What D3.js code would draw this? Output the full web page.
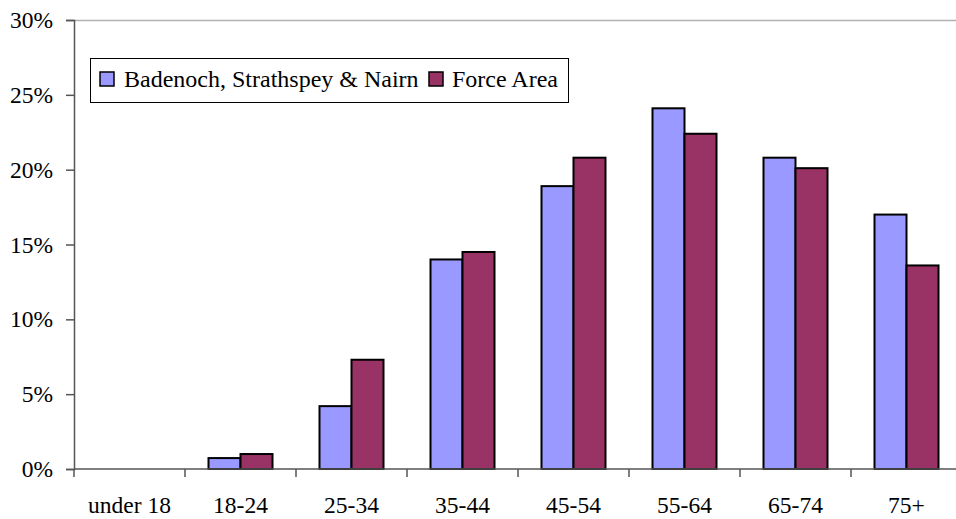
<!DOCTYPE html>
<html><head><meta charset="utf-8">
<script src="https://cdn.jsdelivr.net/npm/d3@7"></script>
<style>body{margin:0;background:#fff}svg{display:block}</style>
</head><body><svg id="c" width="956" height="519"></svg>
<script>
const categories = ["under 18","18-24","25-34","35-44","45-54","55-64","65-74","75+"];
const seriesNames = ["Badenoch, Strathspey & Nairn","Force Area"];
const badenoch = [0, 0.73, 4.2, 14.0, 18.9, 24.1, 20.8, 17.0];
const forceArea = [0, 1.0, 7.3, 14.5, 20.8, 22.4, 20.1, 13.6];
const yTicks = [0,5,10,15,20,25,30];
const colors = ["#9999ff","#993366"];

(function(){
const svg = d3.select("#c");
const FS = 23.5, FL = 24, FF = "Liberation Serif";
const pl = 74, pr = 962, pt = 20, pb = 469;
const x = d3.scaleBand().domain(categories).range([pl, pr]).paddingInner(0).paddingOuter(0);
const inner = d3.scaleBand().domain([0,1]).range([0, 64]);
const y = d3.scaleLinear().domain([0,30]).range([pb, pt]);
const values = [badenoch, forceArea];

svg.append("line").attr("x1", pl).attr("x2", 956).attr("y1", pt+0.5).attr("y2", pt+0.5)
  .attr("stroke","#b0b0b0").attr("stroke-width",1.5);

values.forEach((vals, s) => {
  svg.append("g").selectAll("rect").data(categories.map((c,i)=>({c, v: vals[i]})).filter(d=>d.v>0))
    .join("rect")
    .attr("x", d => x(d.c) + (x.bandwidth()-64)/2 + inner(s))
    .attr("y", d => y(d.v))
    .attr("width", inner.bandwidth())
    .attr("height", d => y(0) - y(d.v))
    .attr("fill", colors[s]).attr("stroke","#000").attr("stroke-width",2);
});

const yAxis = d3.axisLeft(y).tickValues(yTicks).tickFormat(d => d + "%").tickSize(8).tickPadding(13);
const gy = svg.append("g").attr("transform", `translate(${pl},0)`).call(yAxis);
gy.select(".domain").attr("stroke","#555").attr("stroke-width",1.5);
gy.selectAll(".tick line").attr("stroke","#555").attr("stroke-width",1.5);
gy.selectAll("text").attr("font-size", FS).attr("fill","#000").style("font-family", FF);

const gx = svg.append("g").attr("transform", `translate(0,${pb})`);
gx.append("line").attr("x1", pl).attr("x2", 956).attr("y1",0).attr("y2",0).attr("stroke","#555").attr("stroke-width",1.5);
gx.selectAll("line.tk").data(categories).join("line").attr("class","tk")
  .attr("x1", d => x(d)).attr("x2", d => x(d)).attr("y1",0).attr("y2",8)
  .attr("stroke","#555").attr("stroke-width",1.5);
gx.selectAll("text").data(categories).join("text")
  .attr("x", d => x(d) + x.bandwidth()/2).attr("y", 44)
  .attr("text-anchor","middle").attr("font-size",FS).attr("fill","#000").style("font-family", FF).text(d=>d);

const lg = svg.append("g");
lg.append("rect").attr("x",90.5).attr("y",58.5).attr("width",478).attr("height",44)
  .attr("fill","#fff").attr("stroke","#000").attr("stroke-width",1);
const legendItems = [{x:100, tx:124}, {x:429, tx:452}];
seriesNames.forEach((n,i) => {
  lg.append("rect").attr("x", legendItems[i].x).attr("y",72).attr("width",14).attr("height",14)
    .attr("fill", colors[i]).attr("stroke","#000").attr("stroke-width",1.5);
  lg.append("text").attr("x", legendItems[i].tx).attr("y", 87).attr("font-size",FL).attr("fill","#000").style("font-family", FF).text(n);
});
})();
</script></body></html>
